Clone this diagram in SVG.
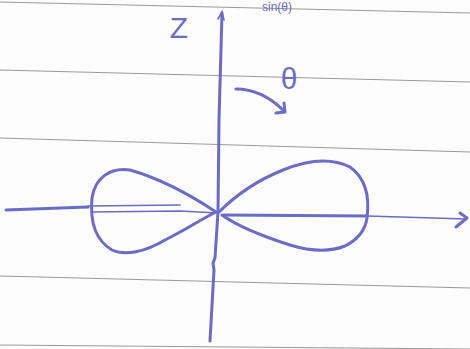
<svg xmlns="http://www.w3.org/2000/svg" width="470" height="349" viewBox="0 0 470 349">
<style>
.paper{stroke:#9a9a9a;stroke-width:1.1;fill:none}
.ink{stroke:#6b6bc8;stroke-width:3;fill:none;stroke-linecap:round;stroke-linejoin:round}
.thin{stroke:#6b6bc8;stroke-width:1.6;fill:none;stroke-linecap:round}
.lbl{fill:#6b6bc8;font-family:"Liberation Sans",Arial,sans-serif}
</style>
<rect width="470" height="349" fill="#fdfdfd"/>
<g id="paper-lines">
<path class="paper" d="M0,2 L470,13"/>
<path class="paper" d="M0,70 L470,82"/>
<path class="paper" d="M0,138 L470,152"/>
<path class="paper" d="M0,276 L470,288"/>
<path class="paper" d="M0,345 L470,349"/>
</g>
<g id="axes">
<path class="ink" d="M222,13 L219,120 L218,212 L215,258 L213,263 L214,270 L210,341"/>
<path class="thin" d="M218,19 L222,12 L224,20"/>
<path class="ink" d="M6,210 L88,207"/>
<path class="thin" d="M88,206 L180,205"/>
<path class="thin" d="M92,212 L180,211 L218,213"/>
<path class="ink" d="M224,215 L367,216"/>
<path class="thin" d="M367,216 L466,219"/>
<path class="ink" d="M460,213 L467,218 L456,227"/>
</g>
<g id="lobes">
<path class="ink" d="M219,212 C235,196 258,180 283,170 C305,161 330,157 350,167 C364,177 370,195 367,218 C365,232 357,240 345,246 C330,252 313,252 290,245 C265,237 240,228 222,215"/>
<path class="ink" d="M216,212 C195,198 165,180 130,170 C110,167 95,178 92,198 C90,220 95,240 112,250 C125,256 145,252 165,240 C185,230 200,220 216,212"/>
</g>
<g id="theta-arrow">
<path class="ink" d="M236,89 C255,89 272,99 284,111"/>
<path class="ink" d="M276,113 L285,112 L284,103"/>
</g>
<g id="labels">
<text class="lbl" x="179" y="38" font-size="30" text-anchor="middle">Z</text>
<text class="lbl" x="289" y="89" font-size="30" text-anchor="middle">θ</text>
<text class="lbl" x="262" y="11" font-size="12">sin(θ)</text>
</g>
</svg>
